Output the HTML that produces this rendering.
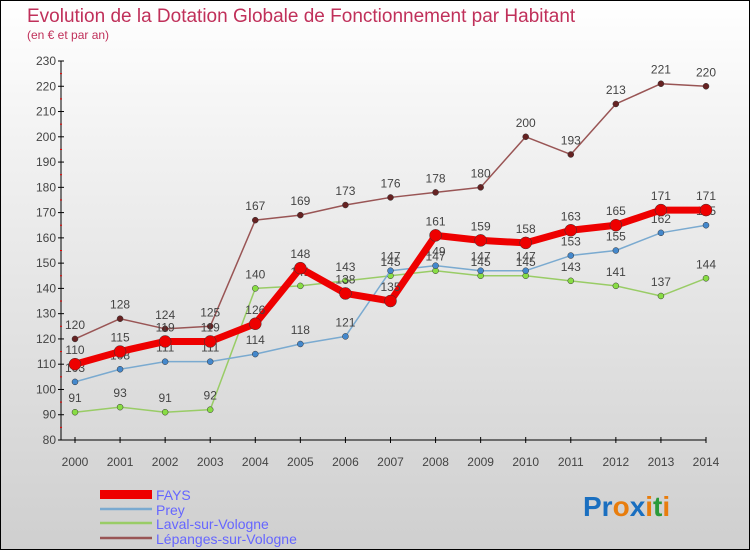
<!DOCTYPE html>
<html><head><meta charset="utf-8"><style>
body{margin:0}
#c{width:748px;height:548px;border:1px solid #000;background:linear-gradient(#fff,#f0f0f0 30%,#cfcfcf);position:relative;overflow:hidden;font-family:"Liberation Sans",sans-serif}
</style></head><body>
<div id="c">
<svg width="748" height="548" id="s">
<text x="26" y="21" font-size="19" fill="#c0305a">Evolution de la Dotation Globale de Fonctionnement par Habitant</text>
<text x="26" y="38" font-size="12" fill="#c0305a">(en € et par an)</text>
<g id="ax"></g><g id="ser"></g>
<g>
<rect x="99" y="489" width="52" height="9" fill="#e00"/>
<text x="155" y="499" font-size="14" fill="#66f">FAYS</text>
<line x1="99" x2="151" y1="508" y2="508" stroke="#7aaad0" stroke-width="2.5"/>
<text x="155" y="514" font-size="14" fill="#66f">Prey</text>
<line x1="99" x2="151" y1="522" y2="522" stroke="#9c6" stroke-width="2.5"/>
<text x="155" y="528" font-size="14" fill="#66f">Laval-sur-Vologne</text>
<line x1="99" x2="151" y1="537" y2="537" stroke="#955" stroke-width="2.5"/>
<text x="155" y="543" font-size="14" fill="#66f">Lépanges-sur-Vologne</text>
</g>
<text x="582" y="515" font-size="28" font-weight="bold"><tspan fill="#1a6fc0">Pr</tspan><tspan fill="#e87d0d">o</tspan><tspan fill="#1a6fc0">x</tspan><tspan fill="#e87d0d">i</tspan><tspan fill="#2a9a3a">t</tspan><tspan fill="#e87d0d">i</tspan></text>
</svg></div>
<script>
const years=[2000,2001,2002,2003,2004,2005,2006,2007,2008,2009,2010,2011,2012,2013,2014];
const yTicks=[80,90,100,110,120,130,140,150,160,170,180,190,200,210,220,230];
const fays=[110,115,119,119,126,148,138,135,161,159,158,163,165,171,171];
const prey=[103,108,111,111,114,118,121,147,149,147,147,153,155,162,165];
const laval=[91,93,91,92,140,141,143,145,147,145,145,143,141,137,144];
const lepanges=[120,128,124,125,167,169,173,176,178,180,200,193,213,221,220];
const NS="http://www.w3.org/2000/svg";
const X=i=>74+i*(631/14), Y=v=>439-(v-80)*(379/150);
function mk(p,t,a){const e=document.createElementNS(NS,t);for(const k in a)e.setAttribute(k,a[k]);p.appendChild(e);return e;}
const ax=document.getElementById('ax');
mk(ax,'line',{x1:60,x2:60,y1:Y(230),y2:Y(80),stroke:'#000'});
mk(ax,'line',{x1:60,x2:X(14),y1:Y(80),y2:Y(80),stroke:'#000'});
yTicks.forEach(v=>{
 mk(ax,'line',{x1:57,x2:63,y1:Y(v),y2:Y(v),stroke:'#000'});
 if(v<230)mk(ax,'line',{x1:59,x2:61,y1:Y(v+5),y2:Y(v+5),stroke:'#e00'});
 const t=mk(ax,'text',{x:55,y:Y(v)+4,'font-size':12,fill:'#444','text-anchor':'end'});t.textContent=v;
 
 
});
years.forEach((y,i)=>{
 mk(ax,'line',{x1:X(i),x2:X(i),y1:Y(80)-3,y2:Y(80)+3,stroke:'#000'});
 const t=mk(ax,'text',{x:X(i),y:465,'font-size':12,fill:'#444','text-anchor':'middle'});t.textContent=y;
 
 
});
const ser=document.getElementById('ser');
function draw(d,col,w,dot,r,name){
 const g=mk(ser,'g',{});
 
 
 mk(g,'polyline',{points:d.map((v,i)=>X(i)+','+Y(v)).join(' '),fill:'none',stroke:col,'stroke-width':w,'stroke-linejoin':'round'});
 d.forEach((v,i)=>{
  const c=mk(g,'circle',{cx:X(i),cy:Y(v),r:r,fill:dot,stroke:'#333','stroke-width':0.5});
  
  
  const t=mk(g,'text',{x:X(i),y:Y(v)-10,'font-size':12,fill:'#444','text-anchor':'middle'});t.textContent=v;
 });
}
draw(laval,'#9c6',1.5,'#8d4',3,'series-laval');
draw(prey,'#7aaad0',1.5,'#48c',3,'series-prey');
draw(lepanges,'#955',1.5,'#622',3,'series-lepanges');
draw(fays,'#e00',7,'#e00',6,'series-fays');
</script></body></html>
